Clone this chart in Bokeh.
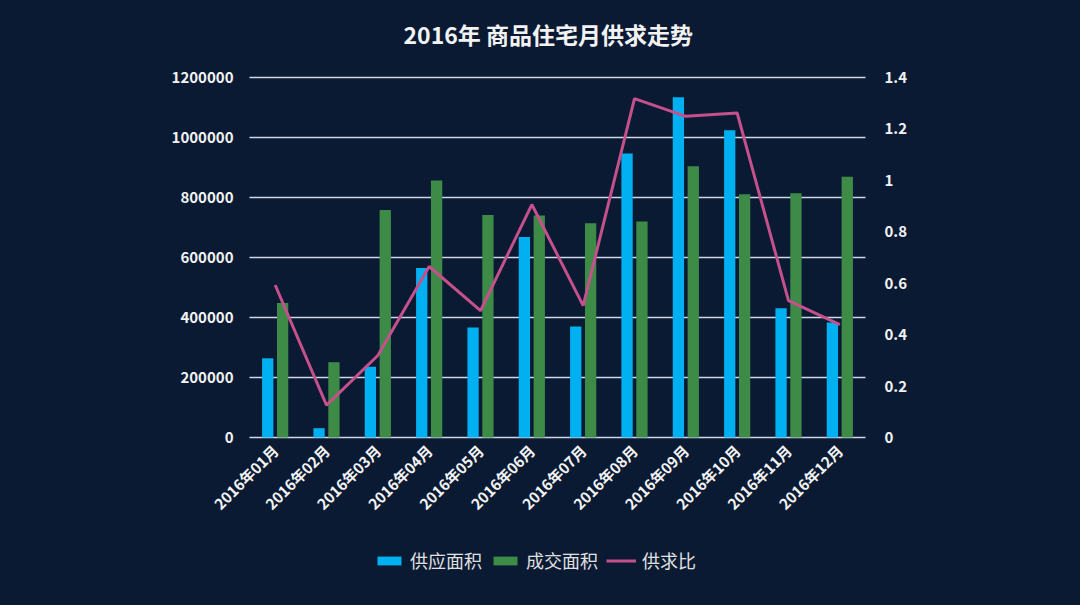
from bokeh.plotting import figure
from bokeh.models import (Range1d, LinearAxis, FixedTicker, Legend, LegendItem,
                          ColumnDataSource, Title, NumeralTickFormatter)
from bokeh.transform import dodge
from bokeh.embed import file_html
from bokeh.resources import INLINE
from math import pi

months = ["2016年01月", "2016年02月", "2016年03月", "2016年04月", "2016年05月", "2016年06月",
          "2016年07月", "2016年08月", "2016年09月", "2016年10月", "2016年11月", "2016年12月"]
supply = [264000, 31000, 236000, 565000, 367000, 668000, 370000, 947000, 1134000, 1024000, 431000, 383000]
deal = [448000, 251000, 758000, 857000, 742000, 740000, 714000, 720000, 904000, 811000, 814000, 869000]
ratio = [0.593, 0.126, 0.319, 0.665, 0.493, 0.906, 0.513, 1.318, 1.249, 1.262, 0.532, 0.439]

left_ticks = [0, 200000, 400000, 600000, 800000, 1000000, 1200000]
right_ticks = [0, 0.2, 0.4, 0.6, 0.8, 1.0, 1.2, 1.4]
right_labels = ["0", "0.2", "0.4", "0.6", "0.8", "1", "1.2", "1.4"]

title_text = "2016年  商品住宅月供求走势"
names = ["供应面积", "成交面积", "供求比"]

BG = "#0a1a33"
FONT = "Noto Sans CJK SC"

# layout constants (pixels)
PLOT_W = 616          # width spanned by the 12 categories
PLOT_H = 360          # height spanned by the value axes
EXTRA_H = 168         # room below the zero line (tick labels, legend)
EXTRA_TOP = 15        # room above the top tick (its label)
EXT_PX = 86           # room left/right of the category span (axis labels)
LEFT_MAX = 1200000
RIGHT_MAX = 1.4

n = len(months)
idx = list(range(n))
cat_px = PLOT_W / n
ext = EXT_PX / cat_px
left_start = -LEFT_MAX * EXTRA_H / PLOT_H
left_end = LEFT_MAX * (1 + EXTRA_TOP / PLOT_H)
right_start = -RIGHT_MAX * EXTRA_H / PLOT_H
right_end = RIGHT_MAX * (1 + EXTRA_TOP / PLOT_H)
x_lo = min(idx) - 0.5
x_hi = max(idx) + 0.5

src = ColumnDataSource(dict(idx=idx, month=months, supply=supply, deal=deal, ratio=ratio))
grid_src = ColumnDataSource(dict(y=left_ticks, x0=[x_lo] * len(left_ticks), x1=[x_hi] * len(left_ticks)))

p = figure(frame_width=PLOT_W + 2 * EXT_PX, frame_height=PLOT_H + EXTRA_H + EXTRA_TOP,
           x_range=Range1d(x_lo - ext, x_hi + ext),
           y_range=Range1d(left_start, left_end), output_backend="svg", toolbar_location=None,
           min_border_left=249 - EXT_PX, min_border_right=215 - EXT_PX,
           min_border_top=77 - EXTRA_TOP, min_border_bottom=0)
p.background_fill_color = BG
p.border_fill_color = BG
p.outline_line_color = None
p.styles = {"background-color": BG}

p.extra_y_ranges = {"r": Range1d(right_start, right_end)}

# grid lines across the category span
p.segment(x0="x0", x1="x1", y0="y", y1="y", source=grid_src, line_color="#d0d8e8",
          line_width=1.5, level="underlay")

b1 = p.vbar(x=dodge("idx", -0.145), top="supply", bottom=0, width=0.22,
            source=src, fill_color="#00b0f0", line_color=None)
b2 = p.vbar(x=dodge("idx", 0.145), top="deal", bottom=0, width=0.22,
            source=src, fill_color="#3d8b47", line_color=None)
ln = p.line(x="idx", y="ratio", source=src, y_range_name="r", line_color="#c4508c", line_width=3)

# axes
p.xgrid.grid_line_color = None
p.ygrid.grid_line_color = None

p.yaxis.ticker = FixedTicker(ticks=left_ticks)
p.yaxis.formatter = NumeralTickFormatter(format="0")
p.yaxis.fixed_location = x_lo
p.xaxis.ticker = FixedTicker(ticks=idx)
p.xaxis.major_label_overrides = {i: m for i, m in zip(idx, months)}
p.xaxis.fixed_location = 0
for ax in [p.yaxis[0], p.xaxis[0]]:
    ax.axis_line_color = None
    ax.major_tick_line_color = None
    ax.minor_tick_line_color = None
    ax.major_label_text_color = "#f2f2f2"
    ax.major_label_text_font = FONT
    ax.major_label_text_font_style = "bold"
    ax.major_label_text_font_size = "15px"
p.yaxis.major_label_standoff = 10
p.xaxis.major_label_orientation = pi / 4
p.xaxis.major_label_standoff = 4

ra = LinearAxis(y_range_name="r", ticker=FixedTicker(ticks=right_ticks),
                major_label_overrides={t: l for t, l in zip(right_ticks, right_labels)})
ra.fixed_location = x_hi
ra.axis_line_color = None
ra.major_tick_line_color = None
ra.minor_tick_line_color = None
ra.major_label_text_color = "#f2f2f2"
ra.major_label_text_font = FONT
ra.major_label_text_font_style = "bold"
ra.major_label_text_font_size = "15px"
ra.major_label_standoff = 13
p.add_layout(ra, "right")

t = Title(text=title_text, align="left", offset=403 - (249 - EXT_PX), text_font=FONT,
          text_font_style="bold", text_font_size="23px", text_color="#f2f2f2", standoff=24)
p.add_layout(t, "above")

legend = Legend(items=[LegendItem(label=names[0], renderers=[b1]),
                       LegendItem(label=names[1], renderers=[b2]),
                       LegendItem(label=names[2], renderers=[ln])],
                orientation="horizontal", location=(125 + EXT_PX, 32),
                background_fill_alpha=0, border_line_color=None,
                label_text_color="#e0e0e0", label_text_font=FONT, label_text_font_size="18px",
                glyph_width=30, glyph_height=11, spacing=8, label_standoff=6, padding=10, margin=0)
p.add_layout(legend, "center")

open("out.html", "w").write(file_html(p, INLINE))
